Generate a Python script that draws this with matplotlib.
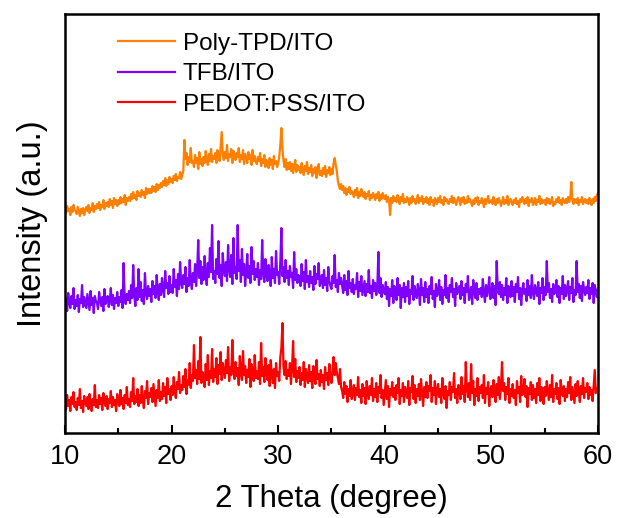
import numpy as np
import matplotlib
matplotlib.use("Agg")
import matplotlib.pyplot as plt
from matplotlib.ticker import MultipleLocator

plt.rcParams['font.family'] = ['Liberation Sans', 'DejaVu Sans']

# XRD scans, 10-60 deg, step 0.1 deg (one row per degree)
pedot = [
    30, 24, 38, 27, 33, 22, 36, 29, 41, 26,
    31, 23, 35, 28, 44, 25, 32, 21, 37, 30,
    27, 36, 24, 39, 30, 22, 34, 28, 48, 26,
    33, 25, 38, 29, 35, 23, 40, 31, 27, 37,
    24, 34, 30, 42, 26, 36, 28, 33, 22, 39,
    31, 27, 43, 29, 35, 24, 38, 30, 46, 28,
    34, 26, 41, 32, 55, 29, 37, 31, 44, 27,
    38, 30, 47, 33, 25, 42, 35, 52, 29, 40,
    36, 45, 31, 49, 38, 27, 43, 35, 53, 32,
    41, 34, 50, 37, 46, 30, 55, 39, 44, 33,
    47, 38, 56, 42, 35, 51, 44, 61, 40, 48,
    43, 57, 46, 64, 39, 53, 48, 70, 45, 58,
    52, 88, 55, 63, 49, 72, 54, 96, 50, 61,
    57, 46, 69, 53, 78, 48, 62, 55, 84, 51,
    64, 56, 75, 49, 68, 59, 81, 53, 70, 62,
    55, 73, 60, 86, 52, 66, 58, 93, 63, 54,
    71, 57, 65, 48, 77, 60, 53, 82, 58, 67,
    50, 63, 56, 74, 46, 69, 59, 52, 78, 55,
    62, 54, 71, 49, 90, 57, 66, 51, 75, 60,
    53, 68, 47, 73, 58, 50, 64, 45, 70, 57,
    61, 52, 76, 85, 110, 66, 58, 72, 54, 63,
    57, 70, 49, 65, 92, 56, 74, 51, 62, 55,
    66, 48, 60, 53, 71, 46, 64, 57, 50, 68,
    52, 61, 45, 67, 55, 49, 73, 54, 59, 47,
    63, 51, 58, 44, 66, 53, 60, 48, 69, 56,
    50, 62, 76, 58, 70, 61, 55, 49, 64, 46,
    42, 35, 51, 39, 47, 31, 44, 37, 53, 34,
    40, 48, 33, 45, 38, 56, 36, 43, 30, 49,
    37, 45, 29, 52, 41, 34, 47, 38, 55, 32,
    44, 36, 50, 31, 46, 40, 58, 35, 43, 28,
    41, 53, 34, 47, 26, 44, 38, 51, 36, 45,
    33, 48, 40, 55, 29, 43, 37, 50, 31, 46,
    39, 35, 52, 28, 45, 41, 57, 34, 48, 30,
    44, 37, 49, 33, 54, 40, 27, 46, 36, 51,
    35, 47, 42, 58, 31, 45, 38, 52, 29, 43,
    49, 36, 44, 30, 55, 40, 34, 47, 25, 42,
    38, 51, 33, 46, 41, 60, 35, 44, 30, 48,
    42, 34, 56, 39, 47, 31, 71, 45, 36, 50,
    33, 69, 40, 52, 28, 44, 37, 55, 32, 46,
    40, 48, 35, 58, 30, 45, 39, 51, 27, 43,
    47, 36, 53, 41, 31, 49, 38, 56, 34, 45,
    71, 42, 50, 33, 46, 39, 55, 30, 44, 37,
    49, 35, 43, 28, 52, 40, 46, 31, 57, 38,
    41, 54, 36, 47, 26, 45, 39, 51, 33, 48,
    35, 44, 30, 50, 38, 55, 32, 46, 40, 29,
    46, 37, 52, 41, 33, 48, 36, 58, 31, 44,
    39, 50, 34, 45, 29, 53, 42, 37, 47, 32,
    44, 36, 51, 40, 56, 33, 46, 38, 30, 49,
    37, 52, 43, 31, 47, 39, 55, 35, 45, 41,
    50, 34, 46, 38, 43, 32, 48, 63, 40, 45,
    42,
]

tfb = [
    28, 35, 22, 40, 31, 25, 37, 29, 45, 24,
    33, 27, 38, 21, 34, 30, 48, 26, 36, 29,
    25, 39, 31, 23, 42, 28, 35, 20, 37, 32,
    30, 24, 41, 33, 27, 36, 22, 44, 29, 34,
    37, 26, 32, 45, 28, 38, 24, 35, 30, 41,
    27, 36, 31, 43, 25, 70, 34, 29, 39, 33,
    42, 30, 48, 35, 68, 38, 27, 45, 33, 64,
    36, 51, 32, 43, 29, 60, 40, 34, 47, 37,
    44, 31, 52, 39, 47, 35, 58, 42, 33, 49,
    38, 55, 43, 36, 62, 45, 50, 39, 57, 41,
    48, 40, 64, 46, 53, 37, 59, 44, 71, 50,
    45, 58, 49, 66, 41, 55, 47, 73, 52, 44,
    60, 51, 69, 47, 63, 93, 55, 72, 49, 66,
    53, 77, 58, 48, 70, 56, 85, 61, 108, 54,
    62, 50, 74, 59, 92, 55, 68, 47, 80, 63,
    57, 71, 52, 88, 64, 56, 78, 49, 95, 60,
    66, 54, 108, 62, 73, 51, 84, 58, 69, 47,
    61, 79, 55, 67, 50, 86, 59, 72, 53, 64,
    56, 70, 48, 63, 54, 93, 60, 51, 74, 57,
    52, 68, 59, 47, 76, 55, 64, 50, 82, 58,
    61, 49, 70, 105, 57, 66, 51, 73, 55, 62,
    48, 67, 56, 60, 45, 81, 53, 64, 50, 58,
    55, 47, 69, 52, 61, 44, 73, 51, 57, 46,
    62, 50, 56, 43, 67, 49, 59, 54, 70, 47,
    51, 58, 45, 63, 48, 55, 42, 66, 52, 47,
    44, 57, 50, 78, 46, 53, 41, 60, 49, 55,
    47, 40, 58, 43, 52, 38, 62, 45, 50, 41,
    54, 39, 48, 44, 60, 36, 51, 42, 57, 38,
    45, 52, 37, 49, 41, 63, 40, 47, 35, 53,
    42, 50, 38, 46, 81, 40, 55, 36, 48, 43,
    39, 51, 34, 46, 27, 44, 37, 53, 30, 47,
    41, 33, 55, 38, 48, 25, 45, 36, 50, 31,
    46, 37, 52, 29, 43, 39, 57, 33, 47, 40,
    35, 49, 42, 28, 54, 38, 45, 31, 51, 36,
    44, 30, 47, 39, 56, 34, 42, 26, 49, 37,
    40, 53, 33, 46, 29, 43, 38, 58, 35, 45,
    31, 48, 41, 55, 36, 44, 27, 50, 39, 43,
    47, 34, 52, 38, 45, 30, 49, 41, 57, 33,
    38, 46, 29, 53, 42, 35, 50, 33, 44, 39,
    45, 36, 54, 40, 31, 48, 37, 43, 56, 34,
    41, 50, 35, 47, 28, 72, 43, 39, 51, 36,
    48, 33, 45, 38, 55, 30, 47, 42, 36, 52,
    37, 46, 31, 49, 41, 56, 34, 45, 28, 43,
    50, 39, 44, 32, 53, 38, 47, 35, 58, 40,
    34, 48, 42, 37, 51, 29, 45, 40, 55, 33,
    46, 38, 72, 41, 50, 35, 44, 31, 49, 39,
    42, 53, 36, 47, 30, 45, 39, 57, 34, 48,
    37, 44, 52, 33, 46, 40, 55, 31, 43, 38,
    72, 41, 49, 35, 47, 32, 51, 44, 38, 46,
    40, 53, 34, 45, 39, 50, 30, 48, 42, 36,
    44,
]

poly_tpd = [
    25, 20, 27, 22, 24, 18, 26, 21, 28, 23,
    22, 19, 26, 21, 17, 24, 20, 25, 18, 23,
    26, 22, 28, 20, 25, 23, 30, 21, 27, 24,
    29, 25, 31, 23, 28, 26, 33, 24, 30, 27,
    31, 26, 34, 28, 32, 25, 35, 29, 33, 27,
    33, 29, 36, 30, 34, 31, 38, 28, 35, 32,
    36, 32, 39, 34, 41, 35, 38, 33, 42, 37,
    40, 36, 43, 38, 41, 35, 45, 39, 44, 40,
    44, 40, 47, 42, 46, 41, 49, 43, 48, 45,
    50, 46, 52, 48, 55, 47, 53, 49, 56, 51,
    54, 50, 57, 53, 59, 52, 56, 55, 61, 54,
    58, 62, 93, 74, 80, 68, 76, 71, 85, 70,
    72, 66, 78, 70, 75, 64, 81, 69, 74, 67,
    76, 70, 82, 73, 68, 79, 72, 84, 71, 77,
    74, 80, 70, 83, 77, 72, 86, 101, 78, 73,
    81, 75, 88, 72, 79, 76, 84, 70, 82, 77,
    73, 80, 76, 85, 71, 78, 74, 83, 69, 79,
    75, 70, 81, 74, 78, 68, 83, 72, 77, 71,
    69, 76, 72, 80, 67, 74, 70, 78, 66, 73,
    71, 65, 75, 68, 73, 64, 77, 69, 72, 66,
    70, 76, 88, 105, 84, 72, 66, 74, 63, 70,
    64, 71, 62, 69, 60, 67, 73, 61, 68, 63,
    66, 60, 70, 63, 58, 67, 62, 71, 59, 65,
    61, 68, 57, 64, 60, 66, 55, 63, 69, 58,
    62, 57, 65, 59, 67, 56, 63, 60, 66, 58,
    64, 59, 70, 75, 68, 62, 52, 47, 44, 49,
    43, 47, 40, 45, 38, 44, 41, 46, 39, 42,
    40, 36, 43, 38, 45, 35, 41, 37, 44, 39,
    36, 41, 34, 39, 37, 42, 33, 38, 35, 40,
    37, 33, 39, 35, 41, 32, 38, 34, 40, 36,
    34, 38, 31, 36, 33, 18, 35, 30, 37, 32,
    35, 31, 38, 33, 29, 36, 32, 39, 30, 34,
    31, 36, 33, 28, 35, 30, 37, 32, 34, 29,
    33, 38, 30, 35, 32, 37, 29, 34, 31, 36,
    30, 34, 28, 36, 31, 33, 27, 35, 32, 29,
    35, 31, 37, 30, 33, 28, 36, 32, 34, 30,
    29, 34, 31, 37, 30, 35, 32, 28, 33, 36,
    32, 28, 35, 31, 36, 29, 33, 30, 37, 31,
    34, 30, 27, 33, 29, 35, 31, 36, 28, 32,
    30, 35, 31, 26, 34, 29, 33, 37, 30, 32,
    33, 29, 36, 31, 28, 34, 30, 35, 32, 27,
    31, 36, 29, 33, 30, 37, 28, 32, 34, 30,
    28, 33, 30, 35, 29, 32, 26, 34, 31, 36,
    32, 29, 34, 30, 36, 27, 33, 31, 35, 28,
    30, 35, 28, 33, 31, 37, 29, 34, 30, 32,
    33, 28, 35, 30, 34, 29, 32, 36, 27, 31,
    29, 34, 31, 36, 30, 33, 28, 35, 32, 30,
    34, 30, 36, 31, 35, 51, 33, 29, 34, 31,
    30, 35, 28, 33, 31, 36, 29, 32, 34, 30,
    33, 29, 35, 31, 28, 34, 30, 36, 32, 38,
    40,
]

labels = ['Poly-TPD/ITO', 'TFB/ITO', 'PEDOT:PSS/ITO']
colors = ['#FF8000', '#8000FF', '#FF0000']
offsets = [200, 100, 0]
series = [poly_tpd, tfb, pedot]

fig = plt.figure(figsize=(6.19, 5.18), dpi=100)
ax = fig.add_axes([0.105, 0.164, 0.861, 0.809])

for vals, lab, c, off in zip(series, labels, colors, offsets):
    tt = np.linspace(10, 60, len(vals))
    ax.plot(tt, np.array(vals) + off, color=c, lw=1.6, label=lab)

ax.set_xlim(10, 60)
ax.set_ylim(0, 419)
ax.set_yticks([])
ax.xaxis.set_major_locator(MultipleLocator(10))
ax.xaxis.set_minor_locator(MultipleLocator(5))
ax.tick_params(axis='x', which='major', direction='in', length=6, width=1.5,
               labelsize=19.5, pad=8)
ax.tick_params(axis='x', which='minor', direction='in', length=3.5, width=1.5)
for s in ax.spines.values():
    s.set_linewidth(1.8)

ax.set_xlabel('2 Theta (degree)', fontsize=22.5, labelpad=10)
ax.set_ylabel('Intensity (a.u.)', fontsize=23.5, labelpad=12)

ax.legend(loc='upper left', bbox_to_anchor=(0.099, 0.955), frameon=False,
          fontsize=17.5, handlelength=2.35, handletextpad=0.33, labelspacing=0.35,
          borderpad=0, borderaxespad=0)

fig.savefig('out.png', dpi=100)
